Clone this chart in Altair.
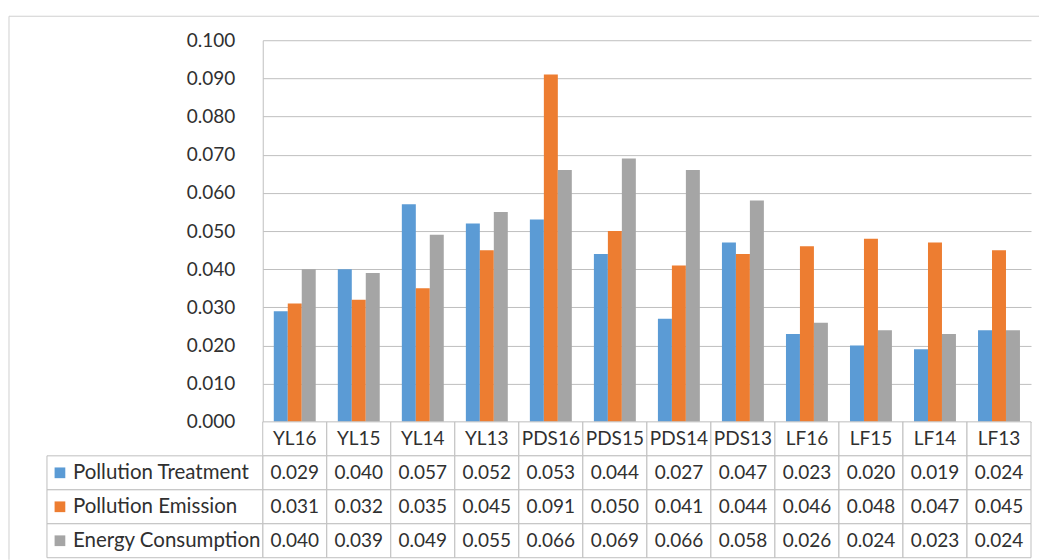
import altair as alt
import pandas as pd

# Regions / years shown along the category axis
categories = ["YL16", "YL15", "YL14", "YL13", "PDS16", "PDS15", "PDS14", "PDS13",
              "LF16", "LF15", "LF14", "LF13"]
series = ["Pollution Treatment", "Pollution Emission", "Energy Consumption"]

pollution_treatment = [0.029, 0.040, 0.057, 0.052, 0.053, 0.044, 0.027, 0.047, 0.023, 0.020, 0.019, 0.024]
pollution_emission = [0.031, 0.032, 0.035, 0.045, 0.091, 0.050, 0.041, 0.044, 0.046, 0.048, 0.047, 0.045]
energy_consumption = [0.040, 0.039, 0.049, 0.055, 0.066, 0.069, 0.066, 0.058, 0.026, 0.024, 0.023, 0.024]

series_colors = ["#5B9BD5", "#ED7D31", "#A5A5A5"]
y_ticks = [0.0, 0.01, 0.02, 0.03, 0.04, 0.05, 0.06, 0.07, 0.08, 0.09, 0.1]

rows = []
for name, vals in zip(series, [pollution_treatment, pollution_emission, energy_consumption]):
    for cat, v in zip(categories, vals):
        rows.append({"category": cat, "row": name, "series": name, "value": v})
df = pd.DataFrame(rows)

header_df = pd.DataFrame({"category": categories, "row": ["category"] * len(categories)})
legend_df = pd.DataFrame({"row": series, "series": series})
row_order = ["category"] + series

FONT = "Lato"
TEXT = "#303030"
LINE = "#BFBFBF"
FRAME = "#D0D0D0"
W = 769
PLOT_H = 382
ROW_H = 34
TABLE_H = ROW_H * len(row_order)
FS = 19
FS_LABEL = 20.5

color_scale = alt.Scale(domain=series, range=series_colors)

# ---- column chart ----
bars = alt.Chart(df).mark_bar().encode(
    x=alt.X("category:N", sort=categories, axis=None,
            scale=alt.Scale(domain=categories, paddingInner=0.345, paddingOuter=0.1725)),
    xOffset=alt.XOffset("series:N", sort=series,
                        scale=alt.Scale(domain=series, paddingInner=0, paddingOuter=0)),
    y=alt.Y("value:Q",
            scale=alt.Scale(domain=[0, 0.1], nice=False, zero=True),
            axis=alt.Axis(values=y_ticks, format=".3f", title=None, grid=True,
                          gridColor=LINE, domainColor=LINE, ticks=False,
                          labelPadding=28, labelFont=FONT, labelFontSize=FS,
                          labelColor=TEXT, labelFlush=False)),
    color=alt.Color("series:N", scale=color_scale, legend=None),
)

frame = alt.Chart(alt.Data(values=[{}])).mark_rule(color=FRAME, strokeWidth=1)
frame_top = frame.encode(x=alt.value(-254), x2=alt.value(777), y=alt.value(-24))
frame_left = frame.encode(x=alt.value(-254), y=alt.value(-24), y2=alt.value(520))

top = alt.layer(frame_top, frame_left, bars).properties(width=W, height=PLOT_H)

# ---- data table under the columns ----
x_tab = alt.X("category:N", sort=categories,
              scale=alt.Scale(domain=categories, paddingInner=0, paddingOuter=0),
              axis=None)
y_tab = alt.Y("row:N", sort=row_order,
              scale=alt.Scale(domain=row_order, paddingInner=0, paddingOuter=0),
              axis=None)

txt = dict(font=FONT, color=TEXT, baseline="middle")

# one outlined cell per category for the header row and each series row
header_cells = alt.Chart(header_df).mark_rect(fill="white", stroke=LINE, strokeWidth=1).encode(
    x=x_tab, y=y_tab)
value_cells = alt.Chart(df).mark_rect(fill="white", stroke=LINE, strokeWidth=1).encode(
    x=x_tab, y=y_tab)
# legend column cells to the left of the value cells
legend_cells = alt.Chart(legend_df).mark_rect(fill="white", stroke=LINE, strokeWidth=1).encode(
    x=alt.value(-216), x2=alt.value(0), y=y_tab)

header = alt.Chart(header_df).mark_text(fontSize=FS, **txt).encode(
    x=x_tab, y=y_tab, text="category:N")
values = alt.Chart(df).mark_text(fontSize=FS, **txt).encode(
    x=x_tab, y=y_tab, text=alt.Text("value:Q", format=".3f"))

keys = alt.Chart(legend_df).mark_square(size=115, opacity=1).encode(
    x=alt.value(-203), y=y_tab,
    color=alt.Color("series:N", scale=color_scale, legend=None))
key_labels = alt.Chart(legend_df).mark_text(align="left", fontSize=FS_LABEL, **txt).encode(
    x=alt.value(-190), y=y_tab, text="row:N")

table = alt.layer(header_cells, value_cells, legend_cells, header, values,
                  keys, key_labels).properties(width=W, height=TABLE_H)

chart = alt.vconcat(top, table, spacing=0, bounds="flush").resolve_scale(
    x="independent", y="independent"
).properties(
    padding={"left": 8, "top": 15, "right": 0, "bottom": 0},
    background="white",
).configure_view(stroke="transparent")

chart.save("out.html", embed_options={"renderer": "svg", "actions": False})
